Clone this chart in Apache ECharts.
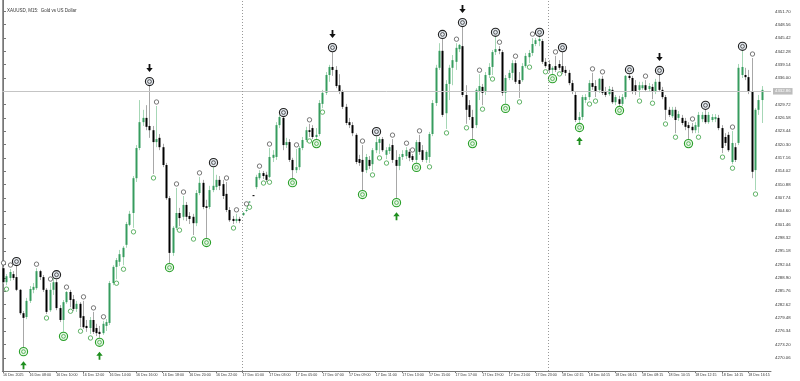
<!DOCTYPE html>
<html><head><meta charset="utf-8">
<script src="https://cdn.jsdelivr.net/npm/echarts@6/dist/echarts.min.js"></script>
<style>html,body{margin:0;padding:0;background:#fff}#c{width:800px;height:381px}</style>
</head><body><div id="c"></div>
<script>
const chartTitle = 'XAUUSD, M15:  Gold vs US Dollar';
const timeLabels = ["16 Dec 2025","16 Dec 08:00","16 Dec 10:00","16 Dec 12:00","16 Dec 14:00","16 Dec 16:00","16 Dec 18:00","16 Dec 20:00","16 Dec 22:00","17 Dec 01:00","17 Dec 03:00","17 Dec 05:00","17 Dec 07:00","17 Dec 09:00","17 Dec 11:00","17 Dec 13:00","17 Dec 15:00","17 Dec 17:00","17 Dec 19:00","17 Dec 21:00","17 Dec 23:00","18 Dec 02:15","18 Dec 04:15","18 Dec 06:15","18 Dec 08:15","18 Dec 10:15","18 Dec 12:15","18 Dec 14:15","18 Dec 16:15"];
const barsPerLabel = 8;
const priceTicks = [4270.06,4273.20,4276.34,4279.48,4282.62,4285.76,4288.90,4292.04,4295.18,4298.32,4301.46,4304.60,4307.74,4310.88,4314.02,4317.16,4320.30,4323.44,4326.58,4329.72,4332.86,4336.00,4339.14,4342.28,4345.42,4348.56,4351.70];
const bidPrice = 4332.86;
const daySeparators = [72, 164];

const open = [4291.2,4287.9,4288.9,4289.8,4289.1,4286.1,4280.6,4279.7,4283.5,4286.1,4286.5,4290.5,4289.1,4286.1,4281.3,4286.1,4287.9,4281.8,4279.0,4283.2,
4285.6,4283.9,4281.6,4282.8,4279.9,4277.6,4277.1,4279.0,4277.1,4276.2,4275.9,4277.6,4278.3,4287.7,4291.5,4292.7,4293.8,4296.7,4301.4,4304.2,
4312.4,4319.5,4325.6,4326.6,4324.7,4323.7,4320.9,4321.9,4319.7,4315.5,4307.7,4294.8,4300.7,4304.2,4303.3,4306.1,4303.5,4303.3,4301.8,4308.9,
4311.3,4305.8,4305.6,4309.6,4310.3,4312.0,4311.0,4308.7,4304.9,4302.8,4302.3,4302.8,4303.7,4304.7,4306.8,4308.4,4310.3,4312.4,4313.6,4313.2,
4312.7,4317.2,4317.4,4324.9,4326.6,4320.2,4320.9,4316.7,4314.3,4315.0,4319.5,4321.4,4323.7,4324.2,4322.1,4322.8,4329.9,4332.5,4336.7,4338.6,
4337.9,4334.3,4332.7,4329.2,4325.6,4324.9,4322.6,4316.9,4316.7,4314.3,4316.7,4315.7,4319.0,4320.7,4321.6,4317.9,4318.8,4320.2,4316.7,4315.3,
4317.4,4317.6,4318.6,4317.6,4316.7,4320.9,4319.0,4316.7,4317.4,4322.8,4330.1,4338.4,4342.4,4327.7,4334.6,4338.4,4339.8,4342.8,4343.5,4332.0,
4329.6,4326.8,4324.9,4332.7,4333.9,4332.7,4336.7,4338.6,4342.1,4342.8,4342.1,4332.5,4336.0,4337.2,4339.5,4335.5,4335.5,4338.8,4340.9,4341.9,
4344.0,4344.7,4344.7,4339.8,4339.3,4337.9,4338.8,4339.3,4338.8,4337.9,4337.2,4334.8,4332.0,4326.1,4326.8,4330.8,4331.5,4334.8,4334.1,4333.2,
4335.8,4332.9,4332.2,4333.2,4330.3,4331.0,4329.9,4331.5,4336.5,4336.0,4334.3,4333.2,4333.6,4334.3,4333.4,4333.9,4332.7,4335.1,4333.2,4331.5,
4328.5,4327.0,4328.5,4326.6,4326.6,4325.9,4324.9,4324.5,4323.7,4324.5,4326.3,4327.3,4325.6,4326.1,4326.3,4326.6,4324.2,4322.1,4322.6,4316.2,
4319.7,4320.7,4336.7,4336.7,4336.2,4332.7,4314.3,4328.5,4330.8];
const high = [4291.5,4289.8,4291.0,4290.5,4291.7,4286.3,4281.1,4284.2,4287.0,4287.7,4291.2,4290.8,4289.6,4286.5,4287.7,4288.9,4288.6,4282.5,4283.7,4285.8,
4286.1,4284.9,4283.5,4283.2,4283.5,4279.0,4279.7,4280.9,4278.1,4277.6,4278.8,4279.2,4288.2,4291.9,4293.6,4295.5,4296.4,4302.1,4304.7,4312.9,
4320.2,4330.8,4328.5,4329.6,4334.1,4324.7,4329.4,4322.8,4320.5,4316.0,4308.2,4301.1,4310.1,4305.4,4308.2,4306.8,4304.4,4304.0,4309.6,4312.7,
4312.0,4307.3,4310.6,4315.0,4313.2,4312.9,4312.0,4311.5,4305.6,4303.5,4304.0,4303.3,4304.4,4305.4,4307.0,4308.4,4313.2,4314.3,4314.1,4313.9,
4319.5,4319.0,4325.6,4327.3,4326.8,4321.9,4321.6,4317.2,4319.3,4320.0,4322.1,4324.5,4325.2,4324.9,4324.2,4330.8,4333.2,4337.4,4339.1,4342.1,
4338.8,4336.9,4333.2,4329.9,4326.6,4325.6,4323.0,4317.9,4320.2,4318.1,4317.6,4319.5,4322.3,4322.1,4322.1,4319.7,4320.5,4321.6,4319.0,4318.1,
4319.0,4319.7,4319.3,4318.1,4321.4,4322.6,4320.2,4319.0,4323.3,4330.8,4339.1,4344.2,4345.2,4335.5,4339.1,4341.4,4344.2,4344.0,4348.0,4334.3,
4330.8,4328.5,4333.6,4336.9,4334.6,4337.4,4339.5,4342.6,4345.7,4343.5,4342.6,4336.7,4337.9,4340.2,4340.2,4337.4,4339.5,4341.9,4342.6,4345.4,
4345.4,4345.7,4345.2,4340.7,4340.2,4338.8,4341.2,4340.2,4342.1,4338.8,4337.9,4335.5,4332.7,4328.0,4332.0,4332.2,4335.5,4337.2,4335.5,4336.0,
4336.5,4333.9,4334.1,4333.9,4332.0,4331.8,4332.2,4336.7,4336.9,4336.5,4335.5,4335.1,4335.1,4335.5,4334.8,4334.6,4335.8,4336.7,4333.9,4332.0,
4329.2,4329.2,4329.2,4328.2,4327.3,4326.6,4325.6,4325.4,4325.6,4328.0,4328.0,4328.5,4328.0,4327.5,4327.5,4327.3,4324.9,4323.0,4323.3,4323.5,
4320.7,4339.3,4342.4,4338.4,4337.9,4340.7,4328.9,4332.0,4334.1];
const low = [4287.5,4287.2,4288.2,4288.4,4285.8,4280.2,4272.6,4279.2,4283.0,4285.3,4286.1,4288.4,4285.6,4280.4,4280.9,4284.9,4281.3,4278.5,4276.2,4282.8,
4282.0,4281.1,4280.9,4277.3,4276.9,4276.2,4275.7,4275.7,4275.2,4274.8,4275.5,4276.4,4277.8,4287.2,4288.6,4291.7,4291.9,4296.0,4301.1,4300.7,
4311.5,4319.0,4324.7,4323.7,4321.9,4313.4,4319.7,4319.0,4315.0,4307.3,4292.4,4294.1,4300.2,4301.1,4302.5,4302.3,4301.6,4299.0,4301.1,4308.4,
4305.1,4298.3,4305.1,4309.1,4309.6,4309.6,4307.5,4304.4,4302.1,4301.6,4301.8,4301.8,4303.5,4304.4,4306.5,4308.2,4309.8,4312.0,4312.2,4311.5,
4312.4,4316.2,4316.7,4324.2,4319.0,4319.5,4316.2,4312.4,4313.6,4314.3,4319.0,4320.9,4322.1,4321.6,4321.6,4322.3,4328.9,4332.0,4335.1,4336.5,
4333.6,4332.2,4328.7,4324.9,4324.2,4322.3,4315.7,4315.3,4309.6,4313.6,4314.6,4314.1,4318.3,4318.1,4318.6,4316.9,4318.1,4316.0,4307.7,4314.3,
4316.7,4316.9,4316.4,4316.2,4316.0,4317.9,4316.2,4316.0,4316.0,4322.3,4329.4,4337.9,4326.8,4324.0,4330.8,4334.3,4337.9,4342.1,4331.5,4325.2,
4326.1,4321.6,4324.2,4330.8,4329.6,4332.0,4336.0,4336.7,4341.4,4341.6,4331.8,4329.9,4335.5,4335.5,4334.6,4331.3,4335.1,4338.4,4339.5,4341.2,
4343.5,4343.5,4339.3,4338.4,4337.2,4336.9,4337.4,4337.9,4336.9,4336.5,4334.3,4332.2,4325.6,4325.4,4326.1,4330.1,4330.8,4333.2,4331.5,4332.5,
4332.0,4331.5,4331.8,4329.9,4329.6,4329.4,4329.4,4331.0,4335.5,4332.2,4332.0,4331.5,4333.2,4332.7,4332.7,4331.0,4332.2,4332.7,4331.0,4326.1,
4326.8,4326.6,4323.0,4325.9,4324.9,4323.7,4321.6,4323.0,4323.0,4323.0,4325.6,4325.2,4325.2,4325.6,4325.6,4323.7,4318.3,4320.0,4318.6,4315.7,
4316.2,4320.2,4336.0,4335.5,4332.2,4312.4,4309.6,4327.3,4325.4];
const close = [4287.9,4289.3,4290.3,4288.9,4286.1,4280.6,4279.5,4283.5,4286.3,4286.8,4290.5,4289.1,4286.1,4280.9,4286.1,4287.9,4281.8,4279.0,4283.2,4285.6,
4283.7,4281.6,4282.8,4279.5,4277.3,4277.1,4279.0,4276.2,4275.9,4275.7,4278.1,4278.5,4287.7,4291.5,4293.1,4294.5,4296.0,4301.6,4304.0,4312.4,
4319.5,4325.6,4326.6,4324.5,4323.7,4320.9,4321.6,4319.7,4315.5,4307.7,4294.8,4300.7,4304.2,4303.0,4306.1,4303.3,4302.8,4301.8,4308.9,4311.3,
4305.6,4305.4,4309.6,4310.6,4312.0,4310.6,4308.2,4304.9,4302.5,4302.3,4302.8,4302.3,4304.2,4304.9,4306.9,4308.2,4312.7,4313.6,4312.9,4312.0,
4317.4,4317.9,4324.9,4326.8,4320.2,4320.9,4316.7,4314.3,4315.0,4319.5,4321.4,4323.7,4323.3,4322.1,4322.6,4330.1,4332.5,4336.7,4338.6,4337.9,
4334.1,4332.7,4329.2,4325.4,4324.9,4323.0,4316.2,4316.0,4313.9,4317.4,4315.3,4319.0,4320.9,4321.6,4319.0,4319.0,4319.7,4316.7,4315.3,4317.4,
4318.1,4319.0,4317.2,4316.7,4320.9,4318.6,4316.7,4318.6,4322.8,4330.1,4338.4,4342.4,4327.3,4334.6,4338.4,4340.2,4343.1,4343.8,4332.0,4328.5,
4326.8,4324.2,4333.2,4334.1,4332.5,4336.7,4338.6,4342.1,4342.8,4342.4,4332.5,4336.0,4337.2,4339.5,4335.1,4334.6,4338.8,4341.2,4341.9,4344.0,
4344.9,4345.2,4339.8,4338.8,4337.9,4338.4,4337.9,4338.4,4337.4,4337.2,4334.8,4332.7,4326.1,4326.8,4331.5,4331.5,4334.8,4333.9,4332.7,4335.8,
4332.5,4332.0,4333.4,4330.3,4331.5,4329.9,4331.5,4336.5,4336.0,4332.7,4332.7,4334.3,4334.3,4333.2,4334.1,4332.7,4335.1,4333.2,4331.5,4328.5,
4327.3,4328.5,4326.1,4327.5,4325.4,4324.5,4324.2,4323.7,4324.9,4327.3,4327.3,4325.6,4327.3,4326.8,4326.8,4324.2,4319.5,4320.7,4319.0,4320.7,
4316.7,4338.4,4338.6,4336.2,4332.7,4313.9,4328.5,4330.8,4333.2];

const hiDots = [0,2,10,14,19,24,27,30,46,52,54,59,67,70,73,77,80,88,92,108,117,121,123,125,136,143,149,154,159,166,177,180,193,207,219,225];
const hiRings = [4,16,44,63,84,99,112,132,138,148,161,168,188,197,211,222];
const loDots = [1,13,20,23,26,34,36,39,45,53,57,69,74,78,80,92,96,111,113,115,128,133,139,144,147,155,158,163,167,176,178,191,195,199,202,209,216,219,226];
const loRings = [6,18,29,50,61,87,94,108,118,124,141,151,165,173,185,206];
const downArrows = [44,99,138,197];
const upArrows = [6,29,118,173];

const BULL = '#369c5e', BEAR = '#000000', WICK_BULL = '#a6d7b6', WICK_BEAR = '#a8a8a8';
const FONT = 'Liberation Sans';

const candleData = open.map((o, i) => [i, o, close[i], low[i], high[i]]);
const markData = []
  .concat(hiDots.map(i => [i, high[i], 0]))
  .concat(loDots.map(i => [i, low[i], 1]))
  .concat(hiRings.map(i => [i, high[i], 2]))
  .concat(loRings.map(i => [i, low[i], 3]))
  .concat(downArrows.map(i => [i, high[i], 4]))
  .concat(upArrows.map(i => [i, low[i], 5]));
const tickIdx = timeLabels.map((_, k) => k * barsPerLabel);

function renderCandle(params, api) {
  const i = api.value(0), o = api.value(1), c = api.value(2), l = api.value(3), h = api.value(4);
  const pO = api.coord([i, o]), pC = api.coord([i, c]), pL = api.coord([i, l]), pH = api.coord([i, h]);
  const x = Math.round(pO[0]);
  const bull = c >= o;
  const top = Math.min(pO[1], pC[1]);
  const hgt = Math.max(1, Math.abs(pO[1] - pC[1]));
  return { type: 'group', children: [
    { type: 'line', shape: { x1: x + 0.5, y1: pH[1], x2: x + 0.5, y2: pL[1] }, style: { stroke: bull ? WICK_BULL : WICK_BEAR, lineWidth: 1 } },
    { type: 'rect', shape: { x: x - 0.5, y: top, width: 2, height: hgt }, style: { fill: bull ? BULL : BEAR } }
  ]};
}

function ring(cx, cy, dark, fill) {
  return [
    { type: 'circle', shape: { cx, cy, r: 4.1 }, style: { fill: fill, stroke: dark, lineWidth: 1.1 } },
    { type: 'circle', shape: { cx, cy, r: 1.9 }, style: { fill: 'none', stroke: dark, lineWidth: 0.7 } }
  ];
}
function arrow(cx, cy, dir, color) {
  const pts = [
    [cx - 0.9, cy - 4 * dir], [cx + 0.9, cy - 4 * dir], [cx + 0.9, cy], [cx + 3.2, cy],
    [cx, cy + 4 * dir], [cx - 3.2, cy], [cx - 0.9, cy]
  ];
  return { type: 'polygon', shape: { points: pts }, style: { fill: color } };
}
function renderMark(params, api) {
  const p = api.coord([api.value(0), api.value(1)]);
  const k = api.value(2);
  const x = Math.round(p[0]) + 0.5;
  if (k === 0) return { type: 'circle', shape: { cx: x, cy: p[1] - 4, r: 2.2 }, style: { fill: '#fff', stroke: '#555', lineWidth: 0.8 } };
  if (k === 1) return { type: 'circle', shape: { cx: x, cy: p[1] + 4, r: 2.2 }, style: { fill: '#fff', stroke: '#3aa043', lineWidth: 0.8 } };
  if (k === 2) return { type: 'group', children: ring(x, p[1] - 4.5, '#222', '#e3e8ee') };
  if (k === 3) return { type: 'group', children: ring(x, p[1] + 4.5, '#2aa02a', '#e8f6e8') };
  if (k === 4) return arrow(x, p[1] - 18, 1, '#111');
  return arrow(x, p[1] + 18, -1, '#1f8f1f');
}

const chart = echarts.init(document.getElementById('c'), null, { renderer: 'canvas' });
chart.setOption({
  animation: false,
  backgroundColor: '#ffffff',
  title: { text: chartTitle, left: 2, top: 3, textStyle: { fontSize: 4.5, fontWeight: 'normal', color: '#333', fontFamily: FONT } },
  grid: { left: 1, right: 29, top: 0, bottom: 10, show: false },
  xAxis: {
    type: 'value', min: -0.2, max: 230.8,
    axisLine: { show: true, lineStyle: { color: '#777', width: 1 } },
    axisTick: { show: true, customValues: tickIdx, length: 2, lineStyle: { color: '#777' } },
    axisLabel: { show: true, customValues: tickIdx, formatter: v => timeLabels[Math.round(v / barsPerLabel)], fontSize: 3.6, color: '#333', align: 'left', margin: 2, fontFamily: FONT },
    splitLine: { show: false }
  },
  yAxis: [{
    type: 'value', position: 'right', min: 4266.98, max: 4354.37,
    axisLine: { show: true, lineStyle: { color: '#777', width: 1 } },
    axisTick: { show: true, customValues: priceTicks, length: 3, lineStyle: { color: '#777' } },
    axisLabel: { show: true, customValues: priceTicks, formatter: v => v.toFixed(2), fontSize: 4.3, color: '#333', margin: 4, fontFamily: FONT },
    splitLine: { show: false }
  }, {
    type: 'value', position: 'left', min: 4266.98, max: 4354.37,
    axisLine: { show: true, lineStyle: { color: '#9a9a9a', width: 1 } },
    axisTick: { show: false }, axisLabel: { show: false }, splitLine: { show: false }
  }],
  series: [
    {
      type: 'custom', renderItem: renderCandle, data: candleData, encode: { x: 0, y: [1, 2, 3, 4] }, clip: true, z: 3,
      markLine: {
        silent: true, symbol: 'none', animation: false,
        data: [
          { yAxis: bidPrice, lineStyle: { color: '#c4c4c4', type: 'solid', width: 1 },
            label: { show: true, position: 'end', formatter: bidPrice.toFixed(2), backgroundColor: '#bdbdbd', color: '#ffffff', fontSize: 4.3, padding: [1.5, 2, 1, 2], distance: 2, fontFamily: FONT } },
          ...daySeparators.map(d => ({ xAxis: d, lineStyle: { color: '#999', type: [1, 2], width: 1 }, label: { show: false } }))
        ]
      }
    },
    { type: 'custom', renderItem: renderMark, data: markData, encode: { x: 0, y: 1 }, clip: false, z: 4 }
  ]
});
</script></body></html>
